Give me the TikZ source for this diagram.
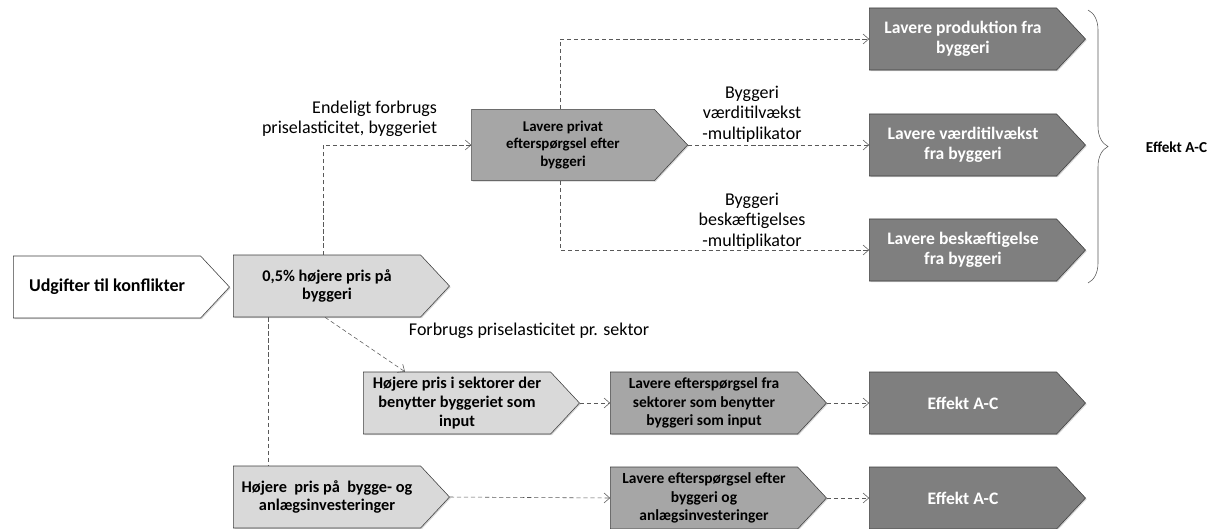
\documentclass[tikz,border=0pt]{standalone}
\usepackage{fontspec}
\setmainfont{Carlito}
\usetikzlibrary{shapes.symbols,arrows.meta,shadows,decorations.pathreplacing}
\definecolor{lightbox}{HTML}{D9D9D9}
\definecolor{midbox}{HTML}{A6A6A6}
\definecolor{darkbox}{HTML}{7F7F7F}
\definecolor{rim}{HTML}{3F3F3F}
\definecolor{linkgray}{HTML}{595959}
\tikzset{
  arrowbox/.style={signal, signal to=east, signal from=nowhere, signal pointer angle=94,
    draw=rim, thin, minimum width=5.4cm, minimum height=1.55cm, align=center, inner xsep=2pt,
    font=\fontsize{11.2}{13}\selectfont\bfseries,
    drop shadow={opacity=0.35, shadow xshift=0.8pt, shadow yshift=-0.8pt}},
  whitebox/.style={arrowbox, fill=white, font=\fontsize{12.8}{14}\selectfont\bfseries},
  lightstep/.style={arrowbox, fill=lightbox, font=\fontsize{11.6}{13.4}\selectfont\bfseries},
  midstep/.style={arrowbox, fill=midbox, font=\fontsize{11}{13}\selectfont\bfseries},
  darkstep/.style={arrowbox, fill=darkbox, text=white, font=\fontsize{12.5}{14.5}\selectfont\bfseries},
  link/.style={densely dashed, linkgray, thin, -{Straight Barb[length=4pt,width=7pt]}},
  plainlink/.style={densely dashed, linkgray, thin},
  lbl/.style={font=\fontsize{12.8}{14.5}\selectfont, align=center}
}
\begin{document}
\begin{tikzpicture}[x=0.025cm, y=-0.025cm]
\useasboundingbox (0,0) rectangle (1208,528);
% first column
\node[whitebox] (udg) at (107,287) {Udgifter til konflikter};
\node[lightstep] (pris) at (327,286) {0,5\% højere pris på\\byggeri};
\node[lightstep] (bygge) at (327,497) {Højere\ \ pris på\ \ bygge- og\\anlægsinvesteringer};
% middle
\node[midstep, minimum height=1.78cm, font=\fontsize{10.6}{12.6}\selectfont\bfseries] (privat) at (563,145) {Lavere privat\\efterspørgsel efter\\byggeri};
\node[lightstep] (sektor) at (457,403) {Højere pris i sektorer der\\benytter byggeriet som\\input};
\node[midstep] (eftfra) at (704,403) {Lavere efterspørgsel fra\\sektorer som benytter\\byggeri som input};
\node[midstep] (eftefter) at (704,498) {Lavere efterspørgsel efter\\byggeri og\\anlægsinvesteringer};
% effects
\node[darkstep] (prod) at (963,39) {Lavere produktion fra\\byggeri};
\node[darkstep] (vaerdi) at (963,145) {Lavere værditilvækst\\fra byggeri};
\node[darkstep] (besk) at (963,250) {Lavere beskæftigelse\\fra byggeri};
\node[darkstep] (effa) at (963,403) {Effekt A-C};
\node[darkstep] (effb) at (963,498) {Effekt A-C};
% connectors
\draw[link] ([xshift=-0.1cm]pris.north) |- (privat.west);
\draw[link] ([xshift=-0.08cm]privat.north) |- (prod.west);
\draw[link] (privat.east) -- (vaerdi.west);
\draw[link] ([xshift=-0.08cm]privat.south) |- (besk.west);
\draw[link] ([xshift=-0.05cm]pris.south) -- ([xshift=-1.3cm]sektor.north);
\draw[plainlink] ([xshift=-1.48cm]pris.south) -- ([xshift=-1.48cm]bygge.north);
\draw[link] (sektor.east) -- (eftfra.west);
\draw[link] (eftfra.east) -- (effa.west);
\draw[link] (bygge.east) -- (eftefter.west);
\draw[link] (eftefter.east) -- (effb.west);
% labels
\node[lbl, align=right, anchor=south east] (lblend) at (442,142) {Endeligt forbrugs\\priselasticitet, byggeriet};
\node[lbl, anchor=south] (lblvaerdi) at (752,147) {Byggeri\\værditilvækst\\-multiplikator};
\node[lbl, anchor=south] (lblbesk) at (752,254) {Byggeri\\beskæftigelses\\-multiplikator};
\node[lbl, anchor=west] (lblsektor) at (404,331) {Forbrugs priselasticitet pr. sektor};
% brace
\coordinate (bracetop) at (1088,10);
\coordinate (bracebot) at (1088,283);
\draw[linkgray, decorate, decoration={brace, amplitude=0.5cm}] (bracetop) -- (bracebot);
\node[font=\fontsize{10.8}{12.5}\selectfont\bfseries, anchor=west] (effekt) at (1141,147) {Effekt A-C};
\end{tikzpicture}
\end{document}
